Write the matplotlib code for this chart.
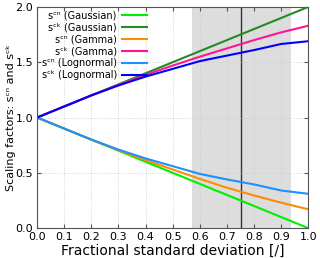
import matplotlib
matplotlib.use('Agg')
import matplotlib.pyplot as plt

# fractional standard deviation
x = [0.0, 0.1, 0.2, 0.3, 0.4, 0.5, 0.6, 0.7, 0.8, 0.9, 1.0]

gauss_cn = [1.0, 0.9, 0.8, 0.7, 0.6, 0.5, 0.4, 0.3, 0.2, 0.1, 0.0]
gauss_ck = [1.0, 1.1, 1.2, 1.3, 1.4, 1.5, 1.6, 1.7, 1.8, 1.9, 2.0]
gamma_cn = [1.0, 0.9, 0.8, 0.705, 0.615, 0.53, 0.445, 0.365, 0.295, 0.23, 0.17]
gamma_ck = [1.0, 1.1, 1.2, 1.295, 1.385, 1.47, 1.55, 1.625, 1.70, 1.77, 1.83]
logn_cn = [1.0, 0.9, 0.8, 0.71, 0.63, 0.56, 0.49, 0.44, 0.395, 0.34, 0.31]
logn_ck = [1.0, 1.1, 1.2, 1.29, 1.37, 1.44, 1.51, 1.56, 1.61, 1.665, 1.69]

shade_lo, shade_hi = 0.57, 0.935
vline_x = 0.753

cn = 's\u1d9c\u207f'
ck = 's\u1d9c\u1d4f'

fig = plt.figure(figsize=(3.2, 2.58), dpi=100)
ax = fig.add_axes([0.116, 0.116, 0.847, 0.857])

ax.axvspan(shade_lo, shade_hi, color='#dddddd', zorder=0, lw=0)
ax.axvline(vline_x, color='#333333', lw=1.0, zorder=1)

lw = 1.5
ax.plot(x, gauss_cn, color='#00ee00', lw=lw, label=cn + ' (Gaussian)')
ax.plot(x, gauss_ck, color='#228b22', lw=lw, label=ck + ' (Gaussian)')
ax.plot(x, gamma_cn, color='#ff8c00', lw=lw, label=cn + ' (Gamma)')
ax.plot(x, gamma_ck, color='#ff1493', lw=lw, label=ck + ' (Gamma)')
ax.plot(x, logn_cn, color='#1e90ff', lw=lw, label=cn + ' (Lognormal)')
ax.plot(x, logn_ck, color='#0000ff', lw=lw, label=ck + ' (Lognormal)')

ax.set_xlim(0, 1)
ax.set_ylim(0, 2)
ax.set_xticks([0.0, 0.1, 0.2, 0.3, 0.4, 0.5, 0.6, 0.7, 0.8, 0.9, 1.0])
ax.set_yticks([0.0, 0.5, 1.0, 1.5, 2.0])
ax.xaxis.set_major_formatter(matplotlib.ticker.FormatStrFormatter('%.1f'))
ax.yaxis.set_major_formatter(matplotlib.ticker.FormatStrFormatter('%.1f'))
ax.tick_params(direction='in', top=True, right=True, labelsize=8, length=3, color='#555555', pad=3)
ax.grid(True, color='#cccccc', ls=':', lw=0.6)
for s in ax.spines.values():
    s.set_color('#555555')
    s.set_linewidth(0.8)

ax.set_xlabel('Fractional standard deviation [/]', fontsize=10, labelpad=1)
ax.set_ylabel('Scaling factors: ' + cn + ' and ' + ck, fontsize=8)
ax.yaxis.set_label_coords(-0.078, 0.5)

ax.legend(loc='upper right', bbox_to_anchor=(0.405, 0.985), markerfirst=False, frameon=False,
          fontsize=7, handlelength=2.6, labelspacing=0.2, borderpad=0, borderaxespad=0,
          handletextpad=0.5)

plt.savefig('out.png', dpi=100)
